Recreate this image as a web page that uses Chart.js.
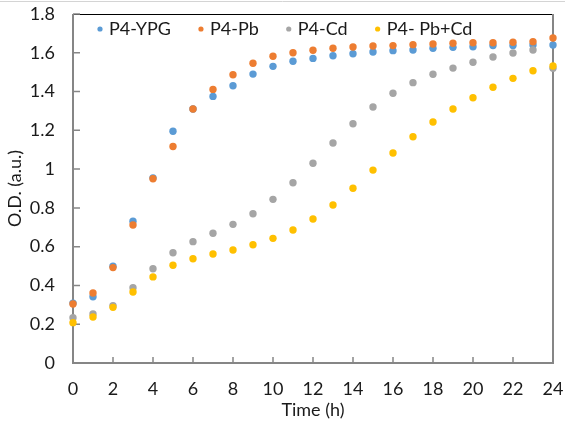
<!DOCTYPE html>
<html>
<head>
<meta charset="utf-8">
<script src="https://cdn.jsdelivr.net/npm/chart.js@4.4.1/dist/chart.umd.min.js"></script>
<style>
  html, body { margin: 0; padding: 0; background: #fff; }
  #wrap { width: 565px; height: 423px; position: relative; }
</style>
</head>
<body>
<div id="wrap"><canvas id="chart" width="565" height="423"></canvas></div>
<script>
const hours = [0, 1, 2, 3, 4, 5, 6, 7, 8, 9, 10, 11, 12, 13, 14, 15, 16, 17, 18, 19, 20, 21, 22, 23, 24];
const ypg = [0.309, 0.342, 0.499, 0.731, 0.955, 1.195, 1.31, 1.375, 1.43, 1.49, 1.53, 1.556, 1.571, 1.585, 1.595, 1.604, 1.611, 1.614, 1.623, 1.628, 1.631, 1.637, 1.638, 1.64, 1.64];
const pb = [0.304, 0.361, 0.492, 0.712, 0.95, 1.117, 1.31, 1.411, 1.487, 1.546, 1.582, 1.6, 1.613, 1.623, 1.63, 1.635, 1.637, 1.642, 1.645, 1.649, 1.652, 1.652, 1.654, 1.657, 1.676];
const cd = [0.234, 0.253, 0.296, 0.388, 0.486, 0.569, 0.626, 0.669, 0.715, 0.77, 0.844, 0.93, 1.03, 1.135, 1.234, 1.32, 1.391, 1.446, 1.489, 1.521, 1.551, 1.578, 1.599, 1.614, 1.52];
const pbcd = [0.208, 0.237, 0.287, 0.366, 0.444, 0.504, 0.538, 0.562, 0.583, 0.61, 0.643, 0.686, 0.743, 0.815, 0.901, 0.995, 1.083, 1.167, 1.243, 1.31, 1.368, 1.422, 1.468, 1.507, 1.532];

const seriesNames = ["P4-YPG", "P4-Pb", "P4-Cd", "P4- Pb+Cd"];
const xTicks = [0, 2, 4, 6, 8, 10, 12, 14, 16, 18, 20, 22, 24];
const yTicks = [0, 0.2, 0.4, 0.6, 0.8, 1, 1.2, 1.4, 1.6, 1.8];

const COLORS = ["#5B9BD5", "#ED7D31", "#A5A5A5", "#FFC000"];
const FONT = "Lato";
const TEXT = "#1a1a1a";
const AXIS = "#868686";

function points(vals) {
  return hours.map(function (h, i) { return { x: h, y: vals[i] }; });
}

function dataset(label, vals, i) {
  return {
    label: label,
    data: points(vals),
    backgroundColor: COLORS[i],
    borderWidth: 0,
    pointRadius: 3.7,
    pointHoverRadius: 3.7,
    clip: false,
    order: 4 - i
  };
}

// frame + inward tick marks, like the spreadsheet plot box
const framePlugin = {
  id: "frame",
  beforeDatasetsDraw(chart) {
    const { ctx, chartArea: a, scales } = chart;
    ctx.save();
    // light border line at the very top of the picture
    ctx.strokeStyle = "#d4d4d4";
    ctx.lineWidth = 1;
    ctx.beginPath();
    ctx.moveTo(0, 1.5);
    ctx.lineTo(chart.width, 1.5);
    ctx.stroke();

    ctx.strokeStyle = "#000";
    ctx.lineWidth = 1;
    ctx.beginPath();
    ctx.moveTo(a.left, a.top + 0.5);
    ctx.lineTo(a.right, a.top + 0.5);
    ctx.stroke();

    ctx.strokeStyle = AXIS;
    ctx.lineWidth = 2;
    ctx.beginPath();
    ctx.moveTo(a.left, a.top);
    ctx.lineTo(a.left, a.bottom);
    ctx.lineTo(a.right, a.bottom);
    ctx.lineTo(a.right, a.top);
    ctx.stroke();

    ctx.lineWidth = 1.5;
    ctx.beginPath();
    xTicks.forEach(function (v) {
      const px = scales.x.getPixelForValue(v);
      ctx.moveTo(px, a.bottom);
      ctx.lineTo(px, a.bottom - 6);
    });
    yTicks.forEach(function (v) {
      const py = scales.y.getPixelForValue(v);
      ctx.moveTo(a.left, py);
      ctx.lineTo(a.left + 7, py);
    });
    ctx.stroke();
    ctx.restore();
  },
  afterDraw(chart) {
    // legend sits inside the plot box
    const { ctx, chartArea: a } = chart;
    ctx.save();
    ctx.font = "18px " + FONT;
    ctx.textBaseline = "middle";
    let x = a.left + 27;
    const y = a.top + 15;
    seriesNames.forEach(function (name, i) {
      ctx.fillStyle = COLORS[i];
      ctx.beginPath();
      ctx.arc(x, y, 2.6, 0, Math.PI * 2);
      ctx.fill();
      ctx.fillStyle = TEXT;
      ctx.fillText(name, x + 9, y);
      x += 9 + ctx.measureText(name).width + 30;
    });
    ctx.restore();
  }
};

new Chart(document.getElementById("chart"), {
  type: "scatter",
  data: {
    datasets: [
      dataset(seriesNames[0], ypg, 0),
      dataset(seriesNames[1], pb, 1),
      dataset(seriesNames[2], cd, 2),
      dataset(seriesNames[3], pbcd, 3)
    ]
  },
  options: {
    responsive: false,
    animation: false,
    layout: { padding: { top: 14, right: 12, left: 0, bottom: 0 } },
    plugins: {
      legend: { display: false },
      tooltip: { enabled: false }
    },
    scales: {
      x: {
        type: "linear",
        min: 0,
        max: 24,
        afterBuildTicks: function (s) { s.ticks = xTicks.map(function (v) { return { value: v }; }); },
        afterFit: function (s) { s.height = 60; s.paddingLeft = 0; s.paddingRight = 0; },
        grid: { display: false, drawTicks: false },
        border: { display: false },
        ticks: {
          padding: 15,
          color: TEXT,
          font: { family: FONT, size: 18 },
          maxRotation: 0,
          callback: function (v) { return String(v); }
        },
        title: {
          display: true,
          text: "Time (h)",
          color: TEXT,
          font: { family: FONT, size: 18 },
          padding: { top: 0, bottom: 2 }
        }
      },
      y: {
        type: "linear",
        min: 0,
        max: 1.8,
        afterBuildTicks: function (s) { s.ticks = yTicks.map(function (v) { return { value: v }; }); },
        afterFit: function (s) { s.width = 73; s.paddingTop = 0; s.paddingBottom = 0; },
        grid: { display: false, drawTicks: false },
        border: { display: false },
        ticks: {
          padding: 18,
          color: TEXT,
          font: { family: FONT, size: 18 },
          callback: function (v) { return String(v); }
        },
        title: {
          display: true,
          text: "O.D. (a.u.)",
          color: TEXT,
          font: { family: FONT, size: 18 },
          padding: { top: 4, bottom: 0 }
        }
      }
    }
  },
  plugins: [framePlugin]
});
</script>
</body>
</html>
